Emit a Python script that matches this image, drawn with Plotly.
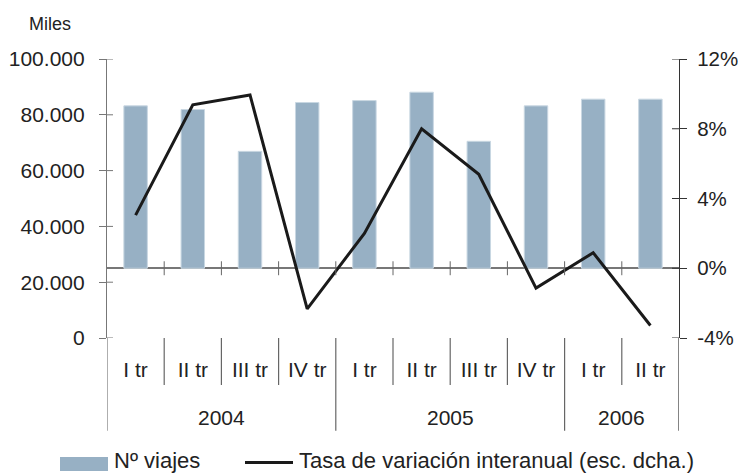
import plotly.graph_objects as go

# datos
anios = ["2004", "2005", "2006"]
trimestres_por_anio = [4, 4, 2]
trimestres = ["I tr", "II tr", "III tr", "IV tr", "I tr", "II tr", "III tr", "IV tr", "I tr", "II tr"]
viajes = [83200, 81900, 66900, 84400, 85100, 88100, 70500, 83200, 85600, 85600]
tasa = [3.05, 9.37, 9.94, -2.33, 2.0, 8.0, 5.39, -1.14, 0.89, -3.28]

izq_ticks = [0, 20000, 40000, 60000, 80000, 100000]
der_ticks = [-4, 0, 4, 8, 12]

# the category axis crosses the left scale at the 0% of the right scale
CRUCE = 25000

W, H = 738, 473
L, R, T, B = 107, 59, 58.5, 134.5
PW, PH = W - L - R, H - T - B


def px_x(p):
    return (p - L) / PW


def px_y(p):
    return (H - B - p) / PH


FONT = "Liberation Sans, Arial, sans-serif"
AZUL = "#97B0C4"
GRIS = "#666"
pos = list(range(len(trimestres)))

fig = go.Figure()

fig.add_trace(go.Bar(
    x=pos,
    y=[v - CRUCE for v in viajes],
    base=CRUCE,
    customdata=viajes,
    hovertemplate="%{customdata:,.0f}<extra></extra>",
    width=0.41,
    marker=dict(color=AZUL, line=dict(color="#C9D7E2", width=1)),
    name="Nº viajes",
))

fig.add_trace(go.Scatter(
    x=pos,
    y=tasa,
    yaxis="y2",
    mode="lines",
    line=dict(color="#1a1a1a", width=3),
    name="Tasa de variación interanual (esc. dcha.)",
))

shapes = []
# inner half of the crossing ticks
for v in izq_ticks:
    shapes.append(dict(type="line", xref="paper", yref="y", x0=0, x1=6 / PW, y0=v, y1=v,
                       line=dict(color="#777", width=1)))
for v in der_ticks:
    shapes.append(dict(type="line", xref="paper", yref="y2", x0=1 - 7 / PW, x1=1, y0=v, y1=v,
                       line=dict(color="#333", width=1)))

# category dividers below the plot, and ticks on the 0% line
limites_anio = [0]
for n in trimestres_por_anio:
    limites_anio.append(limites_anio[-1] + n)
for k in range(len(trimestres) + 1):
    fondo = 431.7 if k in limites_anio else 385.7
    color = "#777" if k == 0 else ("#333" if k == len(trimestres) else GRIS)
    shapes.append(dict(type="line", xref="x", yref="paper", x0=k - 0.5, x1=k - 0.5,
                       y0=px_y(338.5), y1=px_y(fondo), line=dict(color=color, width=1.2)))
    if 0 < k < len(trimestres):
        shapes.append(dict(type="line", xref="x", yref="y2", x0=k - 0.5, x1=k - 0.5,
                           y0=-0.4, y1=0.4, line=dict(color=GRIS, width=1)))

# legend drawn by hand
shapes.append(dict(type="rect", xref="paper", yref="paper", x0=px_x(60), x1=px_x(108),
                   y0=px_y(472), y1=px_y(458), fillcolor=AZUL, line=dict(width=0)))
shapes.append(dict(type="line", xref="paper", yref="paper", x0=px_x(245), x1=px_x(293),
                   y0=px_y(463.5), y1=px_y(463.5), line=dict(color="#1a1a1a", width=3)))

annotations = [
    dict(text="Miles", xref="paper", yref="paper", x=px_x(27), y=px_y(23), xanchor="left",
         yanchor="middle", showarrow=False, font=dict(size=18, color="#222", family=FONT)),
    dict(text="Nº viajes", xref="paper", yref="paper", x=px_x(112), y=px_y(461.5), xanchor="left",
         yanchor="middle", showarrow=False, font=dict(size=22, color="#222", family=FONT)),
    dict(text="Tasa de variación interanual (esc. dcha.)", xref="paper", yref="paper", x=px_x(297),
         y=px_y(461.5), xanchor="left", yanchor="middle", showarrow=False,
         font=dict(size=22, color="#222", family=FONT)),
]
for i, a in enumerate(anios):
    centro = (limites_anio[i] + limites_anio[i + 1] - 1) / 2
    annotations.append(dict(text=a, xref="x", yref="paper", x=centro, y=px_y(418),
                            xanchor="center", yanchor="middle", showarrow=False,
                            font=dict(size=21, color="#222", family=FONT)))

fig.update_layout(
    width=W, height=H,
    margin=dict(l=L, r=R, t=T, b=B),
    paper_bgcolor="white", plot_bgcolor="white",
    font=dict(family=FONT, size=21, color="#222"),
    separators=",.",
    showlegend=False,
    shapes=shapes,
    annotations=annotations,
    xaxis=dict(
        range=[-0.5, len(trimestres) - 0.5], tickvals=pos, ticktext=trimestres,
        showline=False, showgrid=False, zeroline=False, ticks="",
        ticklabelstandoff=17, automargin=False,
    ),
    yaxis=dict(
        range=[0, 100000], tickvals=izq_ticks, tickformat=",.0f",
        showline=True, linecolor="#777", linewidth=1.2,
        ticks="outside", ticklen=7, tickcolor="#777",
        ticklabelstandoff=10,
        showgrid=False, zeroline=False, automargin=False,
    ),
    yaxis2=dict(
        overlaying="y", side="right",
        range=[-4, 12], tickvals=der_ticks, ticktext=[f"{v}%" for v in der_ticks],
        showline=True, linecolor="#333", linewidth=1.2,
        ticks="outside", ticklen=7, tickcolor="#333",
        ticklabelstandoff=6, tickfont=dict(size=20.5),
        showgrid=False, zeroline=True, zerolinecolor="#777", zerolinewidth=1.5,
        automargin=False,
    ),
)

# the page's default body margin would push the figure out of the window
fig.write_html("out.html", config={"displayModeBar": False},
               post_script="document.body.style.margin='0';")
